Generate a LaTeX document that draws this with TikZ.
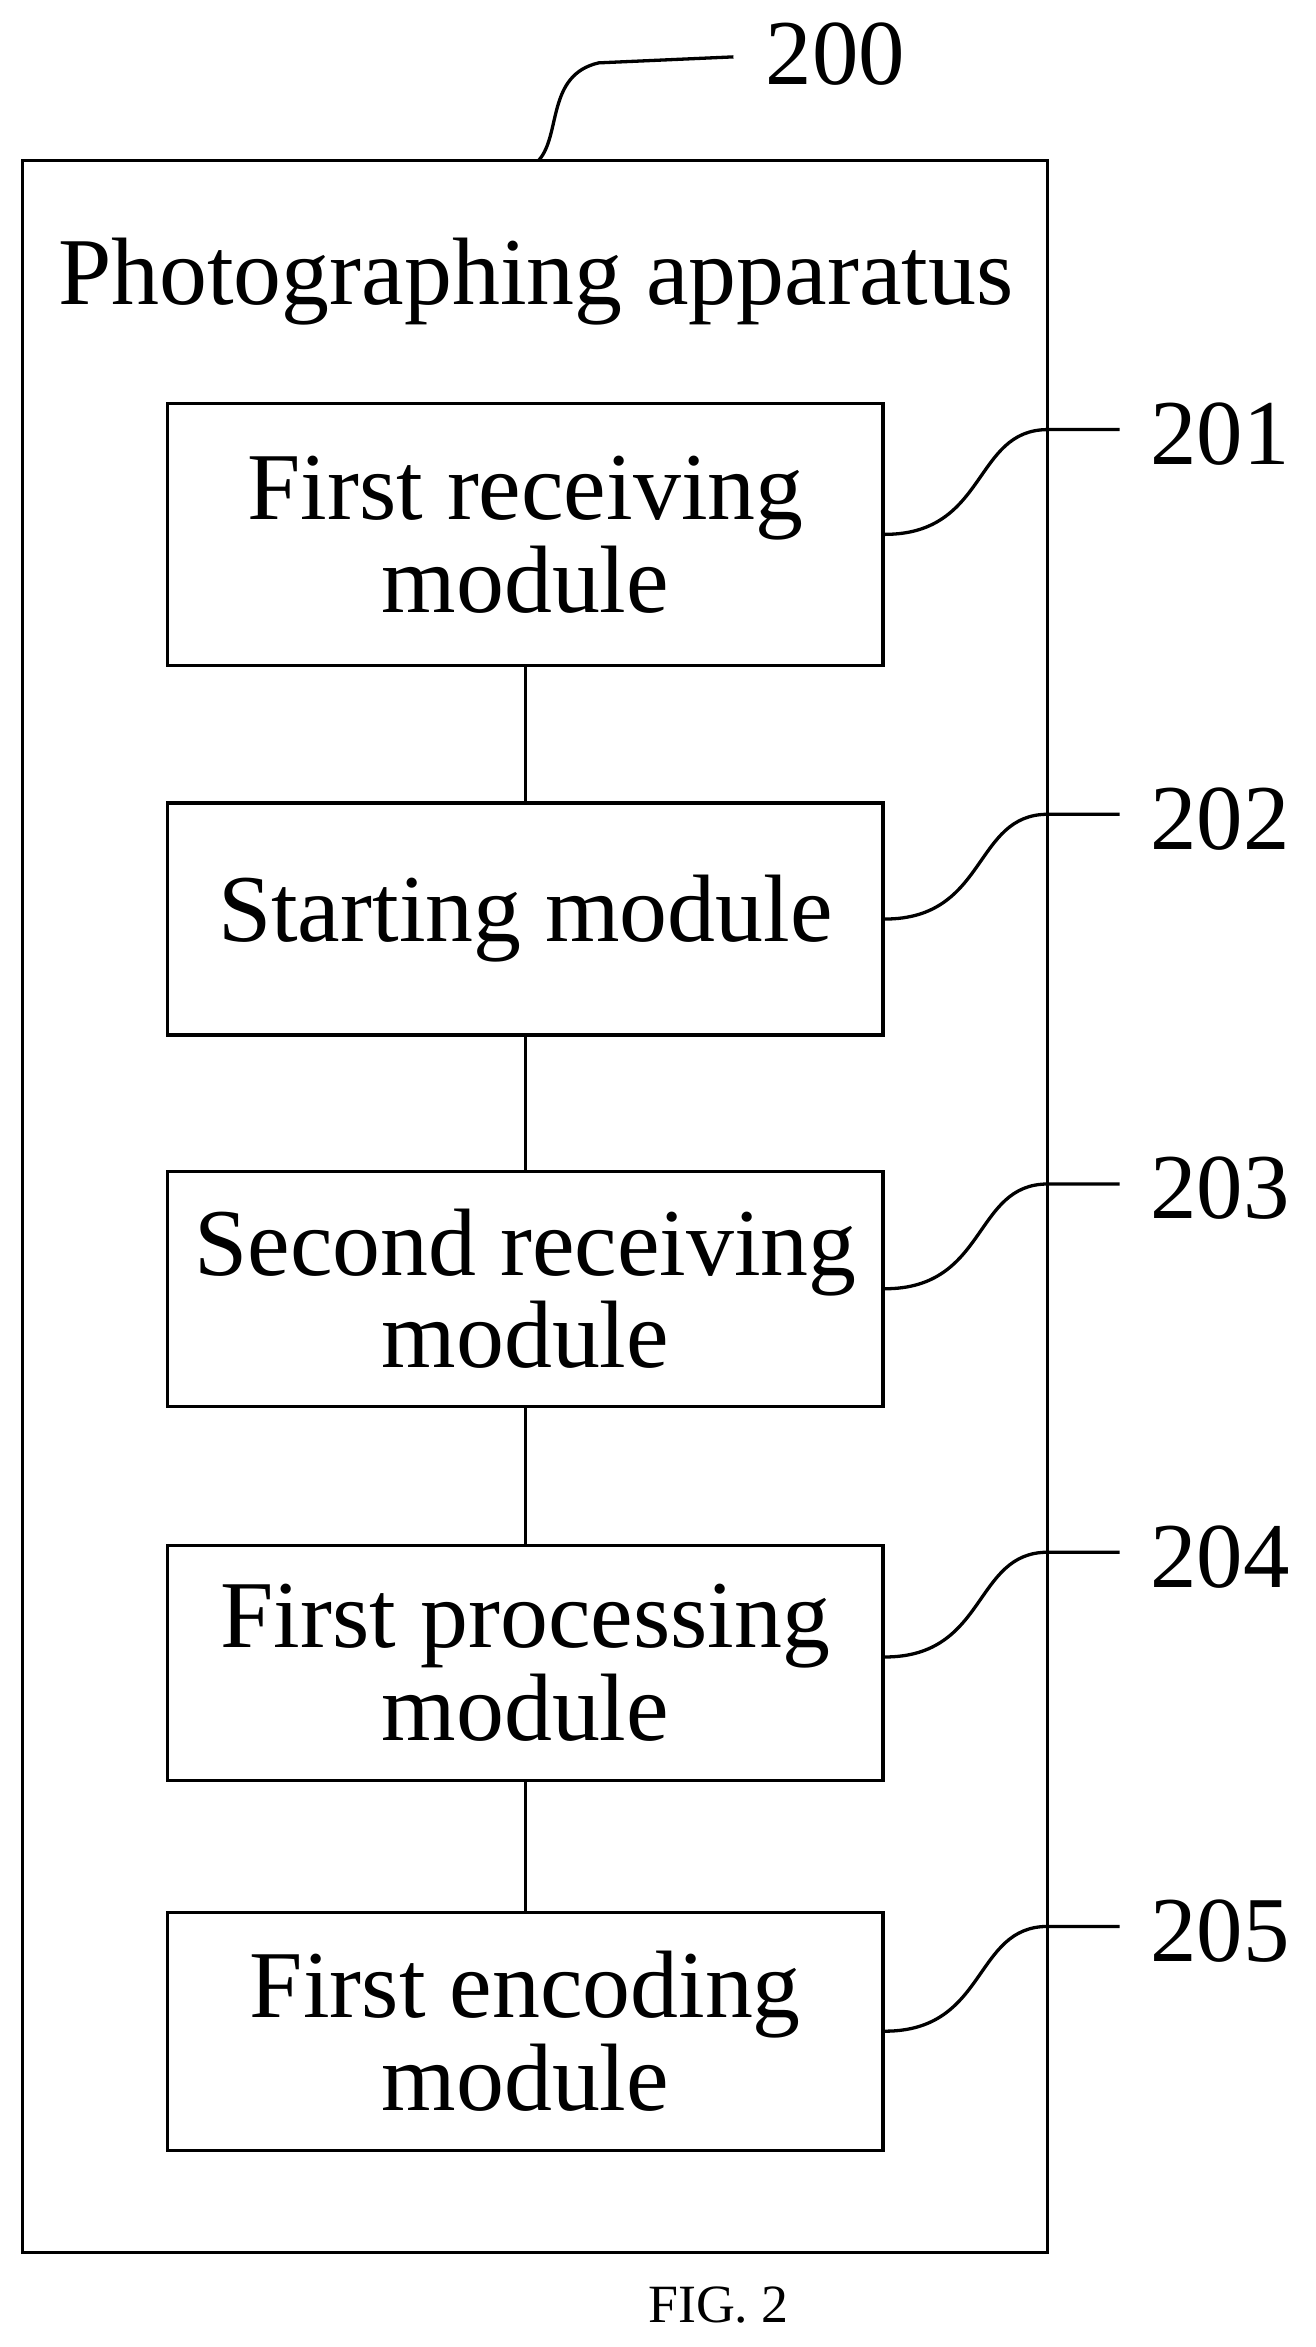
\documentclass[tikz,border=0pt]{standalone}
\usepackage{fontspec}
\setmainfont{Liberation Serif}
\begin{document}
\begin{tikzpicture}[x=1pt,y=-1pt,
  box/.style={draw,line width=2.2pt,minimum width=478pt,align=center,font=\fontsize{64}{62}\selectfont,inner sep=0pt},
  lbl/.style={font=\fontsize{62}{66}\selectfont,anchor=center},
  lead/.style={line width=2.2pt}]
\useasboundingbox (0,0) rectangle (879,1568);
\draw[line width=2.2pt] (15,107) rectangle (700,1505);
\node[font=\fontsize{64}{70}\selectfont] (title) at (358,188) {Photographing apparatus};
\node[box,minimum height=175pt] (b1) at (351,357) {First receiving\\module};
\node[box,minimum height=155pt] (b2) at (351,614) {Starting module};
\node[box,minimum height=157pt] (b3) at (351,861) {Second receiving\\module};
\node[box,minimum height=157pt] (b4) at (351,1111) {First processing\\module};
\node[box,minimum height=159pt] (b5) at (351,1357) {First encoding\\module};
\draw[lead] (b1) -- (b2); \draw[lead] (b2) -- (b3); \draw[lead] (b3) -- (b4); \draw[lead] (b4) -- (b5);
\node[lbl] (l200) at (558,36) {200};
\coordinate (c200) at (490,38);
\draw[lead] (360,107) .. controls (375,90) and (365,50) .. (400,42) -- (c200);
\foreach \i/\y in {1/357,2/614,3/861,4/1107,5/1357}{
  \node[lbl] (l20\i) at (815,\y-67) {20\i};
  \coordinate (e\i) at (748,\y-70);
  \draw[lead] (b\i.east |- 0,\y) .. controls (660,\y) and (650,\y-70) .. (700,\y-70) -- (e\i);
}
\node[font=\fontsize{36}{40}\selectfont] (fig) at (480,1540) {FIG. 2};
\end{tikzpicture}
\end{document}
